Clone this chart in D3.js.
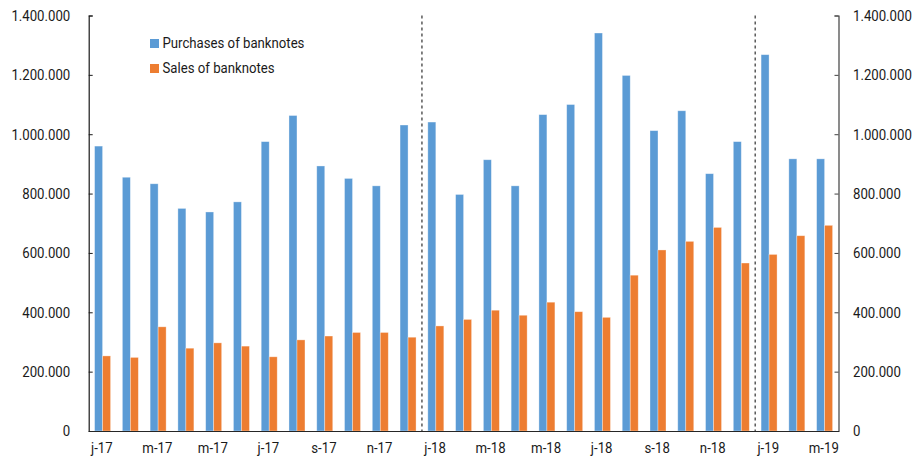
<!DOCTYPE html>
<html>
<head>
<meta charset="utf-8">
<script src="https://cdn.jsdelivr.net/npm/d3@7"></script>
<style>
  html, body { margin: 0; padding: 0; background: #fff; }
  svg { display: block; font-family: Roboto, "Noto Sans", sans-serif; }
</style>
</head>
<body>
<svg id="chart" width="915" height="459"></svg>
<script>
// Monthly banknote transactions, Jan 2017 - Mar 2019
const months = [
  "2017-01","2017-02","2017-03","2017-04","2017-05","2017-06","2017-07","2017-08","2017-09","2017-10","2017-11","2017-12",
  "2018-01","2018-02","2018-03","2018-04","2018-05","2018-06","2018-07","2018-08","2018-09","2018-10","2018-11","2018-12",
  "2019-01","2019-02","2019-03"
];
const monthLabels = [
  "j-17","f-17","m-17","a-17","m-17","j-17","j-17","a-17","s-17","o-17","n-17","d-17",
  "j-18","f-18","m-18","a-18","m-18","j-18","j-18","a-18","s-18","o-18","n-18","d-18",
  "j-19","f-19","m-19"
];
const purchases = [
  960000, 855000, 833000, 750000, 738000, 772000, 975000, 1063000, 893000, 851000, 826000, 1031000,
  1041000, 797000, 914000, 826000, 1066000, 1100000, 1341000, 1198000, 1012000, 1079000, 867000, 975000,
  1268000, 917000, 917000
];
const sales = [
  253000, 248000, 351000, 279000, 297000, 286000, 250000, 307000, 320000, 332000, 332000, 316000,
  354000, 376000, 407000, 390000, 434000, 402000, 383000, 525000, 610000, 639000, 686000, 566000,
  595000, 658000, 693000
];
const seriesNames = ["Purchases of banknotes", "Sales of banknotes"];
const seriesColors = ["#5B9BD5", "#ED7D31"];
const yTicks = [0, 200000, 400000, 600000, 800000, 1000000, 1200000, 1400000];
// year breaks drawn as dashed separators (before these months)
const yearBreaks = ["2018-01", "2019-01"];

const svg = d3.select("#chart");
const plotLeft = 88.7, plotRight = 838.5, plotTop = 15.5, plotBottom = 431;
const FONT_SIZE = 15, SQUEEZE = 0.88;   // condensed lettering

const x0 = d3.scaleBand().domain(months).range([plotLeft, plotRight])
  .paddingInner(0.424).paddingOuter(0.212);
const x1 = d3.scaleBand().domain([0, 1]).range([0, x0.bandwidth()]);
const y = d3.scaleLinear().domain([0, 1400000]).range([plotBottom, plotTop]);

const fmt = d3.formatLocale({ decimal: ",", thousands: ".", grouping: [3], currency: ["", ""] }).format(",.0f");

// bars
const rows = months.map((m, i) => ({ m, vals: [purchases[i], sales[i]] }));
const groups = svg.append("g").selectAll("g").data(rows).join("g")
  .attr("transform", d => `translate(${x0(d.m)},0)`);
groups.selectAll("rect").data(d => d.vals.map((v, k) => ({ v, k }))).join("rect")
  .attr("x", d => x1(d.k))
  .attr("y", d => y(d.v))
  .attr("width", x1.bandwidth())
  .attr("height", d => y(0) - y(d.v))
  .attr("fill", d => seriesColors[d.k])
  .attr("stroke", "#fff")
  .attr("stroke-opacity", 0.45)
  .attr("stroke-width", 0.75);

// dashed year separators
const step = x0.step();
svg.append("g").selectAll("line").data(yearBreaks).join("line")
  .attr("x1", d => x0(d) - x0.paddingInner() * step / 2)
  .attr("x2", d => x0(d) - x0.paddingInner() * step / 2)
  .attr("y1", plotTop)
  .attr("y2", plotBottom)
  .attr("stroke", "#404040")
  .attr("stroke-width", 1.3)
  .attr("stroke-dasharray", "3,3");

// condensed text: squeeze horizontally, keeping the anchor point at x
function condense(sel, x) {
  sel.attr("font-size", FONT_SIZE).attr("fill", "#1a1a1a")
    .attr("font-family", "Roboto, sans-serif")
    .attr("x", x / SQUEEZE)
    .attr("transform", `scale(${SQUEEZE},1)`);
}

// y axes
const yl = svg.append("g").attr("transform", `translate(${plotLeft},0)`)
  .call(d3.axisRight(y).tickValues(yTicks).tickFormat(fmt).tickSize(4));
yl.select(".domain").attr("stroke", "#1a1a1a").attr("stroke-width", 1.2);
yl.selectAll(".tick line").attr("stroke", "#1a1a1a");
yl.selectAll("text").attr("text-anchor", "end").call(condense, -18.5);

const yr = svg.append("g").attr("transform", `translate(${plotRight},0)`)
  .call(d3.axisLeft(y).tickValues(yTicks).tickFormat(fmt).tickSize(4));
yr.select(".domain").attr("stroke", "#404040").attr("stroke-width", 1.2);
yr.selectAll(".tick line").attr("stroke", "#404040");
yr.selectAll("text").attr("text-anchor", "start").call(condense, 14.5);

// x axis
const xTickVals = months.filter((m, i) => i % 2 === 0);
const xa = svg.append("g").attr("transform", `translate(0,${plotBottom})`)
  .call(d3.axisBottom(x0).tickValues(xTickVals)
    .tickFormat(m => monthLabels[months.indexOf(m)]).tickSize(0).tickPadding(11));
xa.select(".domain").attr("stroke", "#262626").attr("stroke-width", 1.2);
xa.selectAll("text").call(condense, -0.8);

// legend
const legend = svg.append("g").selectAll("g").data(seriesNames).join("g")
  .attr("transform", (d, i) => `translate(150,${39 + i * 25})`);
legend.append("rect").attr("width", 9).attr("height", 9)
  .attr("fill", (d, i) => seriesColors[i]);
legend.append("text").attr("y", 9.4)
  .text(d => d)
  .call(condense, 12.5);
</script>
</body>
</html>
